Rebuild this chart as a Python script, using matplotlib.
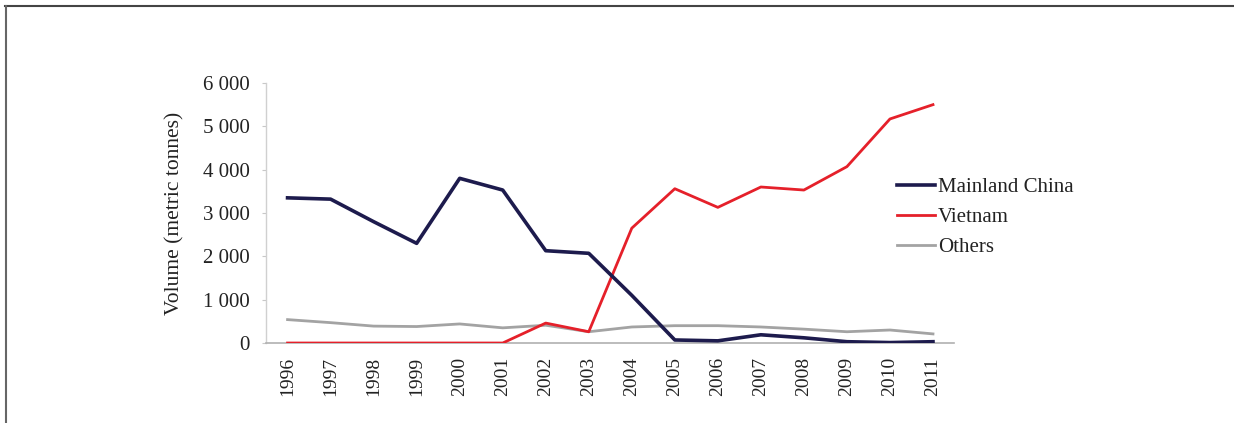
import matplotlib
matplotlib.use("Agg")
import matplotlib.pyplot as plt
from matplotlib.lines import Line2D

years = ["1996", "1997", "1998", "1999", "2000", "2001", "2002", "2003",
         "2004", "2005", "2006", "2007", "2008", "2009", "2010", "2011"]
mainland_china = [3350, 3320, 2800, 2300, 3800, 3530, 2130, 2070,
                  1100, 70, 50, 190, 120, 30, 10, 30]
vietnam = [0, 0, 0, 0, 0, 0, 460, 260,
           2650, 3560, 3130, 3600, 3530, 4070, 5170, 5500]
others = [540, 470, 390, 380, 440, 350, 410, 260,
          370, 400, 400, 370, 320, 260, 300, 210]
yticks = [0, 1000, 2000, 3000, 4000, 5000, 6000]
ytick_labels = ["0", "1 000", "2 000", "3 000", "4 000", "5 000", "6 000"]

plt.rcParams['font.family'] = ['Liberation Serif', 'DejaVu Serif']

fig = plt.figure(figsize=(12.34, 4.23), dpi=100)
ax = fig.add_axes([0.2156, 0.1891, 0.5579, 0.6147])

x = list(range(len(years)))
ax.plot(x, others, color="#a3a3a3", lw=2.0, label="Others", zorder=2)
ax.plot(x, vietnam, color="#e5202a", lw=2.0, label="Vietnam", zorder=3)
ax.plot(x, mainland_china, color="#1d1b4d", lw=2.6, label="Mainland China", zorder=4)

ax.set_xlim(-0.5, len(years) - 0.5)
ax.set_ylim(0, 6000)
ax.set_yticks(yticks)
ax.set_yticklabels(ytick_labels, fontsize=15, color="#222222")
ax.set_xticks(x)
ax.set_xticklabels(years, rotation=90, fontsize=14, color="#222222")
ax.tick_params(axis='x', length=0, pad=10)
ax.tick_params(axis='y', length=3, color="#c8c8c8", pad=8.5)
for s in ["top", "right"]:
    ax.spines[s].set_visible(False)
ax.spines["left"].set_color("#d0d0d0")
ax.spines["left"].set_linewidth(1.0)
ax.spines["bottom"].set_color("#b0b0b0")
ax.spines["bottom"].set_linewidth(1.2)
ax.set_ylabel("Volume (metric tonnes)", fontsize=15.5, color="#222222")
ax.yaxis.set_label_coords(-0.118, 0.5)

handles = [Line2D([], [], color="#1d1b4d", lw=2.6),
           Line2D([], [], color="#e5202a", lw=2.0),
           Line2D([], [], color="#a3a3a3", lw=2.0)]
fig.legend(handles, ["Mainland China", "Vietnam", "Others"],
           loc="upper left", bbox_to_anchor=(0.7203, 0.6005), frameon=False,
           fontsize=15, handlelength=1.8, handletextpad=0.15,
           labelspacing=0.5, borderaxespad=0, labelcolor="#222222")

# page frame lines (top and left)
fig.add_artist(Line2D([0.004, 1.0], [0.986, 0.986], transform=fig.transFigure,
                      color="#444444", lw=1.5))
fig.add_artist(Line2D([0.0045, 0.0045], [0.0, 0.986], transform=fig.transFigure,
                      color="#666666", lw=1.5))

fig.savefig("out.png", dpi=100)
